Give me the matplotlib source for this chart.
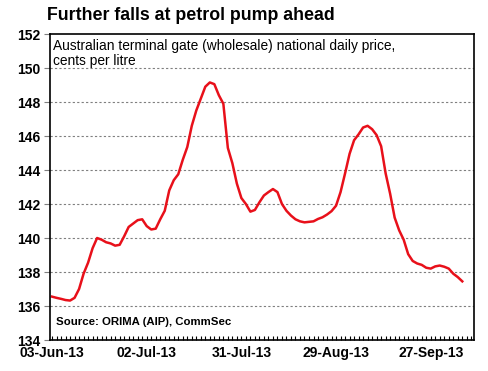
import matplotlib
matplotlib.use("Agg")
import matplotlib.pyplot as plt
import numpy as np
import pandas as pd

# business days starting 03-Jun-13
start_date = "2013-06-03"
price = [
    136.55, 136.48, 136.42, 136.35, 136.32, 136.48, 137.00, 137.90, 138.55, 139.40,
    140.00, 139.90, 139.75, 139.68, 139.55, 139.60, 140.10, 140.65, 140.85, 141.05,
    141.10, 140.70, 140.50, 140.55, 141.10, 141.60, 142.80, 143.40, 143.75, 144.60,
    145.35, 146.60, 147.50, 148.20, 148.90, 149.15, 149.05, 148.40, 147.90, 145.30,
    144.40, 143.20, 142.35, 142.00, 141.55, 141.65, 142.10, 142.50, 142.70, 142.88,
    142.70, 142.00, 141.60, 141.32, 141.10, 140.98, 140.92, 140.95, 140.98, 141.12,
    141.22, 141.38, 141.58, 141.90, 142.70, 143.80, 144.95, 145.75, 146.10, 146.50,
    146.60, 146.40, 146.05, 145.40, 143.80, 142.60, 141.20, 140.45, 139.90, 139.05,
    138.65, 138.50, 138.42, 138.25, 138.20, 138.33, 138.38, 138.31, 138.20, 137.90,
    137.70, 137.45,
]
label_every = 21
y_ticks = [134, 136, 138, 140, 142, 144, 146, 148, 150, 152]

title = "Further falls at petrol pump ahead"
subtitle = "Australian terminal gate (wholesale) national daily price,\ncents per litre"
source = "Source: ORIMA (AIP), CommSec"

dates = pd.bdate_range(start_date, periods=len(price))
idx = np.arange(len(price))

plt.rcParams["font.family"] = ["Liberation Sans", "DejaVu Sans"]

fig = plt.figure(figsize=(4.88, 3.71), dpi=100)
ax = fig.add_axes([50 / 488, 1 - 340 / 371, 424 / 488, 306 / 371])

ax.plot(idx, price, color="#e8101a", lw=1.8, solid_joinstyle="round")

ax.set_ylim(134, 152)
ax.set_xlim(-0.45, 93.6)
ax.set_yticks(y_ticks)
ax.set_yticklabels([str(v) for v in y_ticks], fontsize=10, fontweight="bold")
for v in y_ticks[1:-1]:
    ax.axhline(v, color="#7f7f7f", lw=0.8, ls=(0, (2, 2)), zorder=0)

major = idx[::label_every]
ax.set_xticks(major)
ax.set_xticklabels([d.strftime("%d-%b-%y") for d in dates[major]],
                   fontsize=10, fontweight="bold")
ax.set_xticks(np.arange(0, 94), minor=True)
ax.tick_params(axis="x", which="both", direction="in", length=3, width=0.8, pad=4)
ax.tick_params(axis="y", direction="out", length=4, width=0.8, pad=3, color="#7f7f7f")

for s in ax.spines.values():
    s.set_linewidth(1.2)
    s.set_color("black")

fig.text(47 / 488, 1 - 16 / 371, title, fontsize=12.8, fontweight="bold",
         va="center", ha="left")
ax.text(0.008, 0.985, subtitle, transform=ax.transAxes, fontsize=9.9,
        va="top", ha="left", linespacing=1.1)
ax.text(0.015, 0.06, source, transform=ax.transAxes, fontsize=8.2,
        fontweight="bold", va="center", ha="left")

fig.savefig("out.png", dpi=100)
